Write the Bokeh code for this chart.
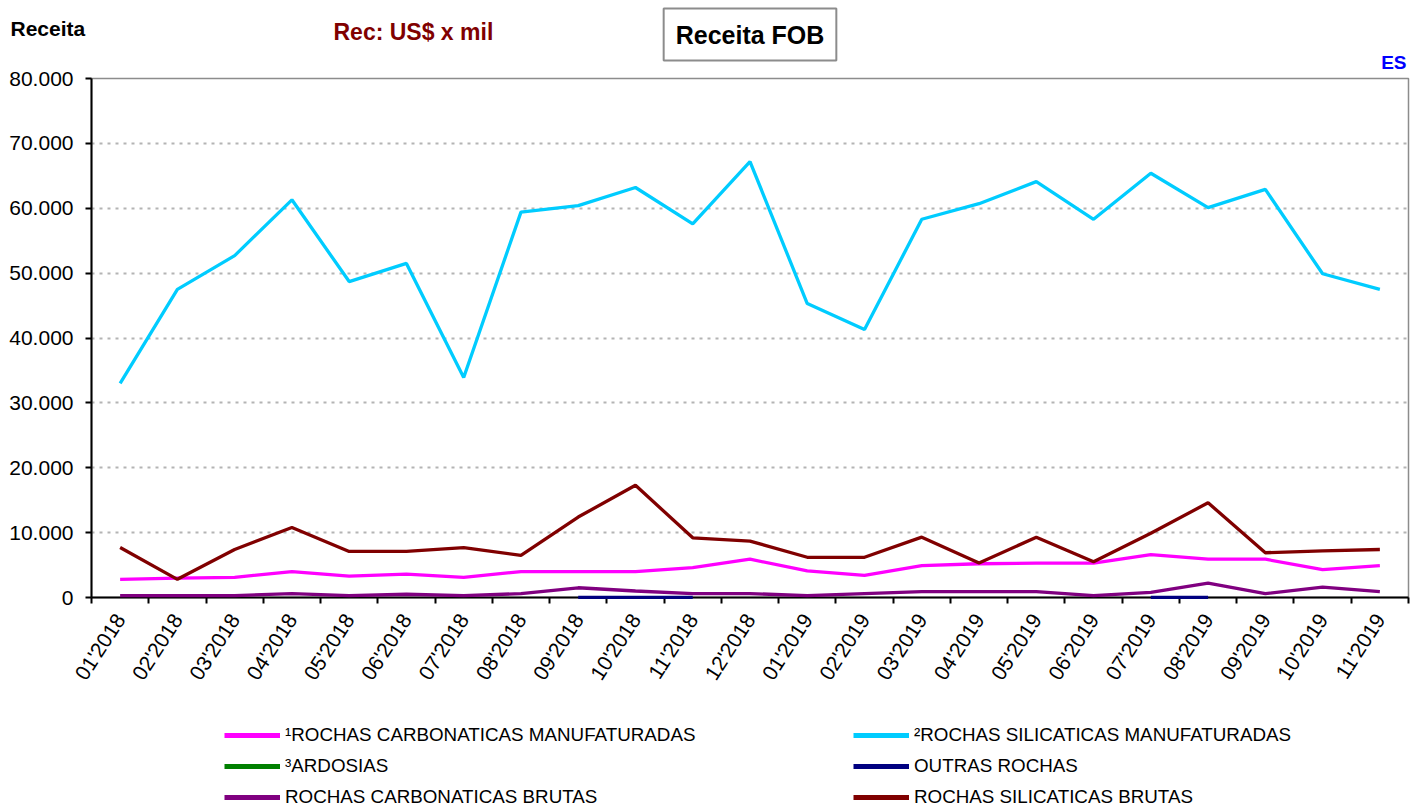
import math
from bokeh.plotting import figure
from bokeh.layouts import column
from bokeh.models import Range1d, FixedTicker, Legend, LegendItem, Label, ColumnDataSource
from bokeh.embed import file_html
from bokeh.resources import INLINE

# ---------------- data ----------------
months = ["01'2018", "02'2018", "03'2018", "04'2018", "05'2018", "06'2018",
          "07'2018", "08'2018", "09'2018", "10'2018", "11'2018", "12'2018",
          "01'2019", "02'2019", "03'2019", "04'2019", "05'2019", "06'2019",
          "07'2019", "08'2019", "09'2019", "10'2019", "11'2019"]

carbonaticas_manuf = [2800, 3000, 3100, 4000, 3300, 3600, 3100, 4000, 4000, 4000, 4600, 5900,
                      4100, 3400, 4900, 5200, 5300, 5300, 6600, 5900, 5900, 4300, 4900]
silicaticas_manuf = [33000, 47500, 52700, 61300, 48700, 51500, 33900, 59400, 60400, 63200, 57600, 67200,
                     45300, 41300, 58300, 60700, 64100, 58300, 65400, 60100, 62900, 49900, 47500]
nan = float("nan")
ardosias = [nan] * 23
outras = [nan, nan, nan, nan, nan, nan, nan, nan, 20, 20, 20, nan,
          nan, nan, nan, nan, nan, nan, 20, 20, nan, nan, nan]
carbonaticas_brutas = [300, 300, 300, 600, 300, 500, 300, 600, 1500, 1000, 600, 600,
                       300, 600, 900, 900, 900, 300, 800, 2200, 600, 1600, 900]
silicaticas_brutas = [7700, 2800, 7400, 10800, 7100, 7100, 7700, 6500, 12400, 17300, 9200, 8700,
                      6200, 6200, 9300, 5300, 9300, 5500, 9900, 14600, 6900, 7200, 7400]

series_names = ["\u00b9ROCHAS CARBONATICAS MANUFATURADAS", "\u00b2ROCHAS SILICATICAS MANUFATURADAS",
                "\u00b3ARDOSIAS", "OUTRAS ROCHAS", "ROCHAS CARBONATICAS BRUTAS", "ROCHAS SILICATICAS BRUTAS"]
series_values = [carbonaticas_manuf, silicaticas_manuf, ardosias, outras, carbonaticas_brutas, silicaticas_brutas]
series_colors = ["#FF00FF", "#00CCFF", "#008000", "#000080", "#800080", "#800000"]

y_ticks = [0, 10000, 20000, 30000, 40000, 50000, 60000, 70000, 80000]

FONT = "Liberation Sans"
W = 1410
OVERLAP = 8
HEAD_H, MAIN_H, LEG_H = 74, 634, 109
n = len(months)

# ---------------- header (pixel space) ----------------
head = figure(width=W, height=HEAD_H, output_backend="svg", toolbar_location=None,
              x_range=Range1d(0, W), y_range=Range1d(HEAD_H, 0),
              x_axis_type=None, y_axis_type=None,
              min_border_left=0, min_border_right=0, min_border_top=0, min_border_bottom=0)
head.frame_align = False
head.outline_line_color = None
head.grid.grid_line_color = None
head.add_layout(Label(x=10, y=28, text="Receita",
                      text_font=FONT, text_font_size="21px", text_font_style="bold",
                      text_color="black", text_baseline="middle"))
head.add_layout(Label(x=333, y=31, text="Rec: US$ x mil",
                      text_font=FONT, text_font_size="23px", text_font_style="bold",
                      text_color="#800000", text_baseline="middle"))
head.add_layout(Label(x=749.5, y=34, text="Receita FOB",
                      text_font=FONT, text_font_size="25px", text_font_style="bold",
                      text_color="black", text_align="center", text_baseline="middle",
                      border_line_color="#8c8c8c", border_line_width=2,
                      background_fill_color="white", padding=12))
head.add_layout(Label(x=1406, y=62, text="ES",
                      text_font=FONT, text_font_size="19px", text_font_style="bold",
                      text_color="#0000FF", text_align="right", text_baseline="middle"))

# ---------------- main chart ----------------
xs = list(range(1, n + 1))
p = figure(width=W, height=MAIN_H, output_backend="svg", toolbar_location=None,
           x_range=Range1d(0.5, n + 0.5), y_range=Range1d(0, 80000),
           min_border_left=91, min_border_right=2, min_border_top=12, min_border_bottom=103,
           margin=(-OVERLAP, 0, 0, 0))
p.frame_align = False
p.background_fill_color = "white"
p.border_fill_alpha = 0
p.outline_line_color = "#8c8c8c"
p.outline_line_width = 1.5

p.xgrid.grid_line_color = None
p.ygrid.grid_line_color = "#b4b4b4"
p.ygrid.grid_line_dash = "3 5"
p.ygrid.grid_line_width = 2

p.yaxis.ticker = FixedTicker(ticks=y_ticks, minor_ticks=[])
p.yaxis.major_label_overrides = {v: f"{v:,}".replace(",", ".") for v in y_ticks}
p.yaxis.major_label_text_font = FONT
p.yaxis.major_label_text_font_size = "21px"
p.yaxis.major_label_text_color = "black"
p.yaxis.axis_line_width = 2
p.yaxis.axis_line_color = "black"
p.yaxis.major_tick_out = 6
p.yaxis.major_tick_in = 0
p.yaxis.major_tick_line_width = 2
p.yaxis.major_label_standoff = 12

p.xaxis.ticker = FixedTicker(ticks=xs, minor_ticks=[i + 0.5 for i in range(n + 1)])
p.xaxis.major_label_overrides = {i: m for i, m in zip(xs, months)}
p.xaxis.major_label_orientation = math.radians(57)
p.xaxis.major_label_text_font = FONT
p.xaxis.major_label_text_font_size = "21px"
p.xaxis.major_label_text_color = "black"
p.xaxis.axis_line_width = 2
p.xaxis.axis_line_color = "black"
p.xaxis.major_tick_line_color = None
p.xaxis.major_tick_out = 0
p.xaxis.major_tick_in = 0
p.xaxis.minor_tick_line_color = "black"
p.xaxis.minor_tick_line_width = 2
p.xaxis.minor_tick_out = 6
p.xaxis.minor_tick_in = 0
p.xaxis.major_label_standoff = 12

for vals, col in zip(series_values, series_colors):
    src = ColumnDataSource(dict(x=xs, y=vals))
    p.line("x", "y", source=src, line_color=col, line_width=3.3, level="overlay")

# ---------------- legend (separate strip) ----------------
leg = figure(width=W, height=LEG_H, output_backend="svg", toolbar_location=None,
             x_range=Range1d(0, 1), y_range=Range1d(0, 1),
             x_axis_type=None, y_axis_type=None,
             min_border_left=0, min_border_right=0, min_border_top=0, min_border_bottom=0)
leg.frame_align = False
leg.outline_line_color = None
leg.grid.grid_line_color = None
# legend-only renderers: no visible data, they only carry the swatch style
leg_renderers = [leg.line(x=[nan], y=[nan], line_color=c, line_width=5) for c in series_colors]
order = [0, 2, 4, 1, 3, 5]  # column-major: left column 0,2,4 ; right column 1,3,5
items = [LegendItem(label=series_names[i], renderers=[leg_renderers[i]]) for i in order]
legend = Legend(items=items, ncols=2, location=(224, 1),
                glyph_width=56, glyph_height=22, label_standoff=5,
                label_width=559, label_height=22, spacing=9,
                padding=0, margin=0, border_line_color=None, background_fill_alpha=0,
                label_text_font=FONT, label_text_font_size="18.8px", label_text_color="black")
leg.add_layout(legend)

layout = column(head, p, leg, spacing=0)
open("out.html", "w").write(file_html(layout, INLINE))
